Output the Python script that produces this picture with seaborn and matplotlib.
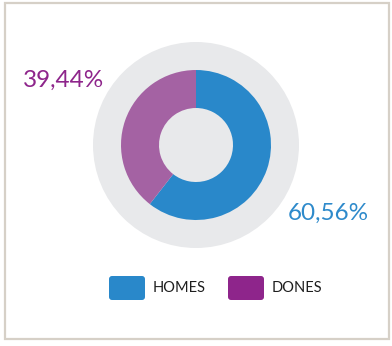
import matplotlib
matplotlib.use("Agg")
import matplotlib.pyplot as plt
from matplotlib.patches import Circle, Rectangle, FancyBboxPatch
import seaborn as sns

# Data
categories = ["HOMES", "DONES"]
shares = [60.56, 39.44]
value_labels = ["60,56%", "39,44%"]

sns.set_theme(style="white")
plt.rcParams["font.family"] = ["Lato", "DejaVu Sans"]

wedge_colors = ["#2988CA", "#A462A3"]
key_colors = ["#2988CA", "#8E258B"]
label_colors = ["#2E8ACB", "#8E258B"]

W, H = 392, 346
fig = plt.figure(figsize=(W / 100, H / 100), dpi=100)
ax = fig.add_axes([0, 0, 1, 1])
ax.set_xlim(0, W)
ax.set_ylim(0, H)
ax.set_aspect("equal")
ax.axis("off")

def py(y):
    return H - y

# Card frame
ax.add_patch(Rectangle((5, py(339)), 384, 336, facecolor="white",
                       edgecolor="#D6D0C7", linewidth=1.6, zorder=0))

cx, cy = 196, py(145)
# Grey backdrop disc
ax.add_patch(Circle((cx, cy), 103, facecolor="#E8E9EB", edgecolor="none", zorder=1))

# Donut
wedges, _ = ax.pie(shares, colors=wedge_colors, startangle=90, counterclock=False,
                   radius=75, center=(cx, cy),
                   wedgeprops=dict(width=38, edgecolor="none"))
for w in wedges:
    w.set_zorder(2)
ax.set_xlim(0, W)
ax.set_ylim(0, H)
ax.axis("off")

# Value labels
ax.text(64, py(80), value_labels[1], color=label_colors[1], fontsize=17.5,
        ha="center", va="center", zorder=3)
ax.text(328, py(213), value_labels[0], color=label_colors[0], fontsize=17.5,
        ha="center", va="center", zorder=3)

# Legend
key_x = [109, 228]
text_x = [153, 272]
for i, name in enumerate(categories):
    ax.add_patch(FancyBboxPatch((key_x[i] + 3, py(300) + 3), 30, 18,
                                boxstyle="round,pad=3", facecolor=key_colors[i],
                                edgecolor="none", zorder=3))
    ax.text(text_x[i], py(288), name, color="#1E1E1E", fontsize=10.5,
            ha="left", va="center", zorder=3)

fig.savefig("out.png", dpi=100)
